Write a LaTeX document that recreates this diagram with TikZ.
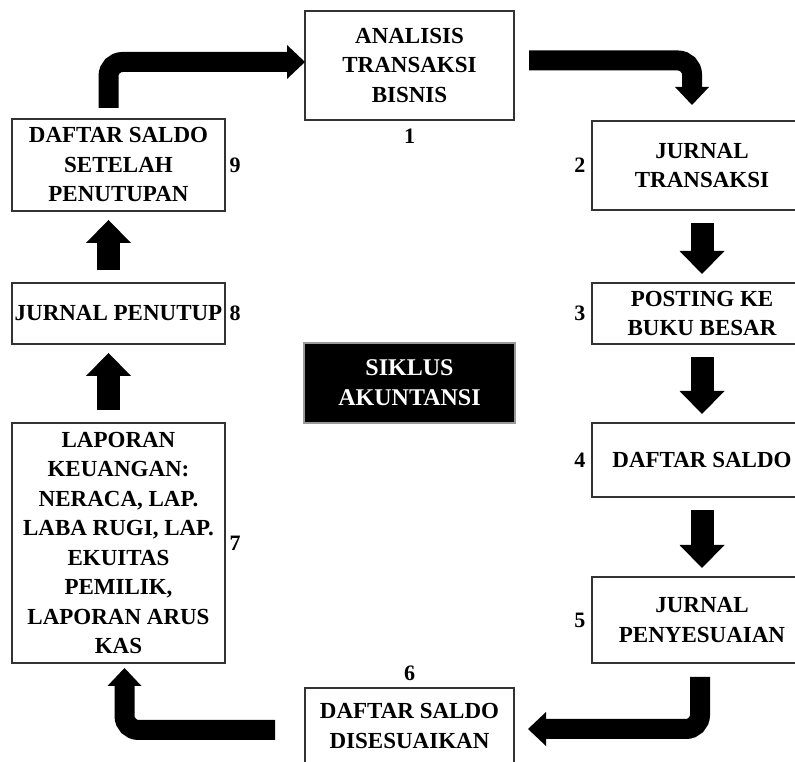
\documentclass[tikz,border=0pt]{standalone}
\usepackage{fontspec}
\setmainfont{Liberation Serif}
\usetikzlibrary{arrows.meta, positioning}

\begin{document}
\begin{tikzpicture}[x=1pt, y=1pt,
  box/.style={draw=black!80, line width=1.3pt, inner sep=0pt, outer sep=0pt, align=center, font=\fontsize{23}{29.5}\selectfont\bfseries},
  num/.style={inner sep=0pt, font=\fontsize{22}{24}\selectfont\bfseries},
  fat/.style={line width=23pt, -{Triangle[width=45pt, length=23pt, line width=0pt]}, shorten <=13pt, shorten >=9pt},
  bent/.style={line width=20pt, rounded corners=14pt, -{Triangle[width=34pt, length=18pt, line width=0pt]}}]

  \useasboundingbox (0,0) rectangle (795,762);
  \clip (0,0) rectangle (795,762);

  % Nodes
  \node (analisis) [box, minimum width=209pt, minimum height=109pt] at (409.5,696.5) {ANALISIS\\TRANSAKSI\\BISNIS};
  \node (jurnal) [box, minimum width=220pt, minimum height=89pt] at (702,596.5) {JURNAL\\TRANSAKSI};
  \node (posting) [box, minimum width=220pt, minimum height=61pt, below=73pt of jurnal] {POSTING KE\\BUKU BESAR};
  \node (saldo) [box, minimum width=220pt, minimum height=74pt, below=79pt of posting] {DAFTAR SALDO};
  \node (penyesuaian) [box, minimum width=220pt, minimum height=86pt, below=80pt of saldo] {JURNAL\\PENYESUAIAN};
  \node (disesuaikan) [box, minimum width=209pt, minimum height=76pt] at (409.5,36) {DAFTAR SALDO\\DISESUAIKAN};
  \node (setelah) [box, minimum width=213pt, minimum height=92pt] at (118.5,597) {DAFTAR SALDO\\SETELAH\\PENUTUPAN};
  \node (penutup) [box, minimum width=213pt, minimum height=61pt, below=72pt of setelah] {JURNAL PENUTUP};
  \node (laporan) [box, minimum width=213pt, minimum height=240pt, below=79pt of penutup] {LAPORAN\\KEUANGAN:\\NERACA, LAP.\\LABA RUGI, LAP.\\EKUITAS\\PEMILIK,\\LAPORAN ARUS\\KAS};
  \node (siklus) [box, fill=black, draw=black!40, text=white, font=\fontsize{24}{30}\selectfont\bfseries, minimum width=211pt, minimum height=80pt] at (409.5,379) {SIKLUS\\AKUNTANSI};

  % Numbers
  \node (n1) [num, below=9pt of analisis] {1};
  \node (n2) [num, left=6.5pt of jurnal] {2};
  \node (n3) [num, left=6.5pt of posting] {3};
  \node (n4) [num, left=6.5pt of saldo] {4};
  \node (n5) [num, left=6.5pt of penyesuaian] {5};
  \node (n6) [num, above=7.5pt of disesuaikan] {6};
  \node (n7) [num, right=4.5pt of laporan] {7};
  \node (n8) [num, right=4.5pt of penutup] {8};
  \node (n9) [num, right=4.5pt of setelah] {9};

  % Edges
  \draw[bent, shorten <=11pt] ([xshift=-10pt]setelah.north) |- ([yshift=3.5pt]analisis.west);
  \draw[bent] ([xshift=15pt,yshift=5pt]analisis.east) -| ([xshift=-10pt,yshift=16pt]jurnal.north);
  \draw[fat] (jurnal) -- (posting);
  \draw[fat] (posting) -- (saldo);
  \draw[fat] (saldo) -- (penyesuaian);
  \draw[bent] ([xshift=-2pt,yshift=-14pt]penyesuaian.south) |- ([xshift=14pt,yshift=-3pt]disesuaikan.east);
  \draw[bent] ([xshift=-30pt,yshift=-4pt]disesuaikan.west) -| ([xshift=6pt,yshift=-5pt]laporan.south);
  \draw[fat] ([xshift=-10pt]laporan.north) -- ([xshift=-10pt]penutup.south);
  \draw[fat] ([xshift=-10pt]penutup.north) -- ([xshift=-10pt]setelah.south);

\end{tikzpicture}
\end{document}
